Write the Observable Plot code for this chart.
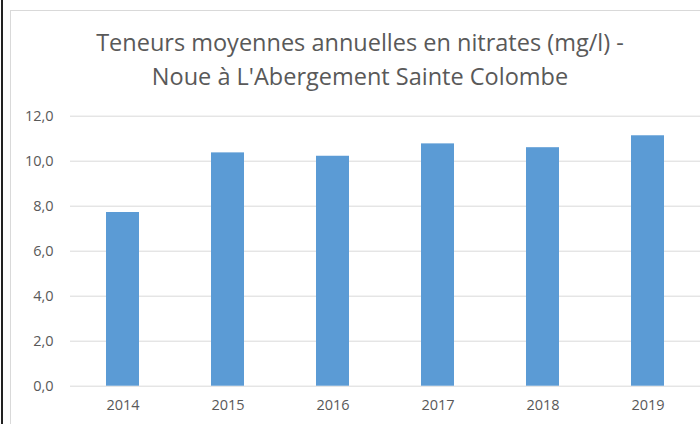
<!DOCTYPE html>
<html>
<head>
<meta charset="utf-8">
<script src="https://cdn.jsdelivr.net/npm/d3@7"></script>
<script src="https://cdn.jsdelivr.net/npm/@observablehq/plot@0.6"></script>
<style>
  html, body { margin: 0; padding: 0; background: #fff; overflow: hidden; }
  #frame { position: relative; width: 700px; height: 424px; overflow: hidden; background: #fff; font-family: "Open Sans", sans-serif; }
  #edge { position: absolute; left: 1px; top: 0; width: 2px; height: 424px; background: #222; }
  #box { position: absolute; left: 10px; top: 10px; width: 720px; height: 440px; border: 1px solid #d9d9d9; box-sizing: border-box; }
  #title { position: absolute; left: 10px; width: 700px; top: 26px; text-align: center; color: #595959; font-size: 23.5px; line-height: 33.7px; }
  #chart { position: absolute; left: 10px; top: 100px; }
</style>
</head>
<body>
<div id="frame">
  <div id="edge"></div>
  <div id="box"></div>
  <div id="title">Teneurs moyennes annuelles en nitrates (mg/l) -<br>Noue à L'Abergement Sainte Colombe</div>
  <div id="chart"></div>
</div>
<script>
const years = ["2014", "2015", "2016", "2017", "2018", "2019"];
const values = [7.72, 10.37, 10.22, 10.77, 10.6, 11.13];
const yTicks = [0, 2, 4, 6, 8, 10, 12];

const data = years.map((y, i) => ({year: y, value: values[i]}));
const fmt = d => d.toFixed(1).replace(".", ",");

const chart = Plot.plot({
  width: 690,
  height: 324,
  marginLeft: 60,
  marginRight: 0,
  marginTop: 15.7,
  marginBottom: 38.3,
  style: {fontFamily: "Open Sans, sans-serif", fontSize: "14px", color: "#595959", background: "transparent"},
  x: {domain: years, paddingInner: 0.69, paddingOuter: 0.345, label: null},
  y: {domain: [0, 12], label: null},
  marks: [
    Plot.ruleY(yTicks, {stroke: "#d9d9d9", strokeWidth: 1}),
    Plot.barY(data, {x: "year", y: "value", fill: "#5b9bd5"}),
    Plot.axisY({ticks: yTicks, tickFormat: fmt, tickSize: 0, tickPadding: 17, label: null, fill: "#595959", fontSize: 14.5}),
    Plot.axisX({tickSize: 0, tickPadding: 14, label: null, fill: "#595959", fontSize: 14.5})
  ]
});
document.getElementById("chart").appendChild(chart);
</script>
</body>
</html>
